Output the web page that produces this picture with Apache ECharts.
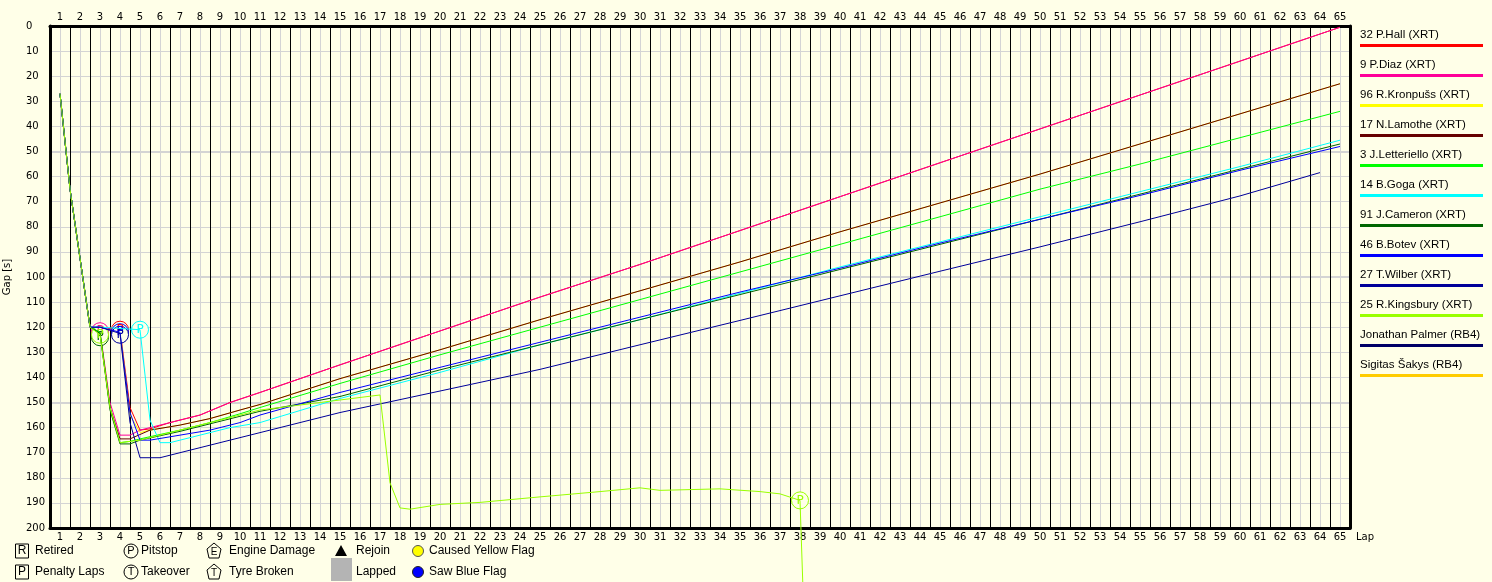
<!DOCTYPE html>
<html>
<head>
<meta charset="utf-8">
<title>Gap chart</title>
<script src="https://cdn.jsdelivr.net/npm/echarts@6/dist/echarts.min.js"></script>
<style>
  html, body { margin: 0; padding: 0; background: #ffffe8; }
  #chart { width: 1492px; height: 582px; }
</style>
</head>
<body>
<div id="chart"></div>
<script>
// drivers, in legend (and draw) order
const drivers = ['32 P.Hall (XRT)', '9 P.Diaz (XRT)', '96 R.Kronpušs (XRT)', '17 N.Lamothe (XRT)',
  '3 J.Letteriello (XRT)', '14 B.Goga (XRT)', '91 J.Cameron (XRT)', '46 B.Botev (XRT)',
  '27 T.Wilber (XRT)', '25 R.Kingsbury (XRT)', 'Jonathan Palmer (RB4)', 'Sigitas Šakys (RB4)'];
const colors = ['#ff0000', '#ff0099', '#ffff00', '#660000', '#00ff00', '#00ffff', '#006600',
  '#0000ff', '#000099', '#99ff00', '#000066', '#ffcc00'];

// [lap, gap s]
const hall = [[1,27],[1.5,65],[2.5,120],[3,120.5],[3.5,120.5],[4,121],[4.5,152],[5,161],[5.5,160.5],[6.5,158],[8,155],[9.5,150],[11,146],[15,135],[20,121.5],[25,108],[30,95],[35,81.5],[40,68],[45,54.5],[50,41],[55,27.5],[60,14],[65,0.5]];
const diaz = [[1,27],[1.5,65],[2.5,120],[3,121.5],[3.5,150],[4,163],[4.5,163],[5,161],[6.5,158],[8,155],[9.5,150],[11,146],[15,135],[20,121.5],[25,108],[30,95],[35,81.5],[40,68],[45,54.5],[50,41],[55,27.5],[60,14],[65,0.5]];
const kronpuss = [[1,27],[1.5,65],[2.5,120],[3,120.5],[4,121.5],[4.5,155],[5,162],[5.5,161],[7,159],[8.5,156.4],[10,153],[11,150.8],[15,140.5],[20,129],[25,117],[30,105.5],[35,94],[40,82],[45,70.5],[50,59],[55,47],[60,35],[65,23]];
const lamothe = [[1,27],[1.5,65],[2.5,120],[3,122],[3.5,152],[4,164.5],[4.5,164.5],[5.5,161],[7,159],[8.5,156.4],[10,153],[11,150.8],[15,140.5],[20,129],[25,117],[30,105.5],[35,94],[40,82],[45,70.5],[50,59],[55,47],[60,35],[65,23]];
const letteriello = [[1,27],[1.5,65],[2.5,120],[3,122],[3.5,152],[4,166],[4.5,165.5],[5,164.5],[7,161],[8.5,158],[10,154.5],[11,152],[15,142.4],[20,131],[25,120],[30,109],[35,98],[40,87],[45,76],[50,65],[55,55],[60,44.5],[65,34]];
const goga = [[1,27],[1.5,65],[2.5,120],[3,120],[4,120.5],[5,121],[5.5,157],[6,166],[6.5,166],[8,163],[9.5,160],[11,158],[15,148.4],[20,138],[25,127],[30,117],[35,106.5],[40,96],[45,86],[50,76],[55,66],[60,56],[65,45.5]];
const cameron = [[1,27],[1.5,65],[2.5,120],[3,122.5],[3.5,153],[4,166.5],[4.5,166.5],[5,165],[7,161.5],[8.5,158.5],[10,155.5],[11,153.5],[15,147.6],[20,137],[25,127],[30,117],[35,107],[40,97],[45,87],[50,77],[55,67],[60,57],[65,47]];
const botev = [[1,27],[1.5,65],[2.5,120],[3,120],[4,122],[4.5,154],[5,165],[5.5,165],[7,163],[8.5,161],[10,158],[11,155],[15,146],[20,136],[25,126],[30,116],[35,106],[40,96.5],[45,86.5],[50,77],[55,67.5],[60,57.5],[65,48]];
const wilber = [[1,27],[1.5,65],[2.5,120],[3,120],[4,122.5],[4.5,158],[5,172],[6,172],[7,170],[8.5,167],[10,164],[11,162],[15,154],[22,142],[25,136.8],[30,127],[35,117.3],[40,107.5],[45,97.7],[50,88],[55,78],[60,67.7],[64,58.4]];
const kingsbury = [[1,27],[1.5,65],[2.5,120],[3,123],[3.5,152],[4,166],[4.5,165.5],[5,165],[7,161],[8.5,158],[10,155],[11,153],[15,149],[17,147],[17.5,182],[18,192],[18.5,192.5],[20,190.6],[22,189.8],[25,187.6],[28,185.5],[30,184],[31,185],[34,184.4],[36,185.5],[37,186.4],[38,189],[38.3,260]];
const palmer = [];
const sakys = [];
const seriesData = [hall, diaz, kronpuss, lamothe, letteriello, goga, cameron, botev, wilber, kingsbury, palmer, sakys];

// pit stops: [series index, lap, gap]
const pits = [[1,3,121.6],[6,3,124],[9,3,123],[0,4,121],[7,4,122],[8,4,123],[5,5,121],[9,38,189]];

const legendRow1 = ['Retired', 'Pitstop', 'Engine Damage', 'Rejoin', 'Caused Yellow Flag'];
const legendRow2 = ['Penalty Laps', 'Takeover', 'Tyre Broken', 'Lapped', 'Saw Blue Flag'];

const BG = '#ffffe8';
const GRID = '#d4d4d4';
const tickFont = { fontFamily: 'DejaVu Sans', fontSize: 10, color: '#000' };
const txtFont = '12px "Liberation Sans"';

const chart = echarts.init(document.getElementById('chart'));

const series = drivers.map((name, i) => {
  const marks = pits.filter(p => p[0] === i).map(p => ({ coord: [p[1], p[2]] }));
  return {
    name: name,
    type: 'line',
    data: seriesData[i],
    symbol: 'none',
    clip: false,
    color: colors[i],
    lineStyle: { width: 1, color: colors[i] },
    emphasis: { disabled: true },
    z: 2 + i,
    markPoint: marks.length ? {
      symbol: 'circle',
      symbolSize: 17,
      itemStyle: { color: BG, borderColor: colors[i], borderWidth: 1 },
      label: { show: true, position: 'inside', formatter: 'P', color: colors[i], fontFamily: 'DejaVu Sans', fontSize: 12 },
      data: marks
    } : undefined
  };
});

const graphic = [];
// right-hand legend
drivers.forEach((name, i) => {
  graphic.push({ type: 'text', left: 1360, top: 29 + 30 * i,
    style: { text: name, font: '11.5px "Liberation Sans"', fill: '#000' } });
  graphic.push({ type: 'rect', shape: { x: 1360, y: 44 + 30 * i, width: 123, height: 3 },
    style: { fill: colors[i] } });
});

// symbol legend below the plot
const iconX = [22, 131, 214, 341, 418];
const textX = [35, 141, 229, 356, 429];
const rowY = [551, 572];
function boxIcon(cx, cy, letter) {
  graphic.push({ type: 'rect', shape: { x: cx - 6.5, y: cy - 7, width: 13, height: 14 },
    style: { fill: BG, stroke: '#000', lineWidth: 1 } });
  graphic.push({ type: 'text', x: cx, y: cy, style: { text: letter, font: txtFont, fill: '#000', align: 'center', verticalAlign: 'middle' } });
}
function circleIcon(cx, cy, letter) {
  graphic.push({ type: 'circle', shape: { cx: cx, cy: cy, r: 7 }, style: { fill: BG, stroke: '#000', lineWidth: 1 } });
  graphic.push({ type: 'text', x: cx, y: cy, style: { text: letter, font: '11px "Liberation Sans"', fill: '#000', align: 'center', verticalAlign: 'middle' } });
}
function pentIcon(cx, cy, letter) {
  graphic.push({ type: 'polygon', shape: { points: [[cx, cy - 8], [cx + 7, cy - 2], [cx + 5, cy + 7], [cx - 5, cy + 7], [cx - 7, cy - 2]] },
    style: { fill: BG, stroke: '#000', lineWidth: 1 } });
  graphic.push({ type: 'text', x: cx, y: cy + 1, style: { text: letter, font: '10px "Liberation Sans"', fill: '#000', align: 'center', verticalAlign: 'middle' } });
}
boxIcon(iconX[0], rowY[0], 'R');
boxIcon(iconX[0], rowY[1], 'P');
circleIcon(iconX[1], rowY[0], 'P');
circleIcon(iconX[1], rowY[1], 'T');
pentIcon(iconX[2], rowY[0], 'E');
pentIcon(iconX[2], rowY[1], 'T');
graphic.push({ type: 'polygon', shape: { points: [[iconX[3], rowY[0] - 6], [iconX[3] + 6, rowY[0] + 5], [iconX[3] - 6, rowY[0] + 5]] }, style: { fill: '#000' } });
graphic.push({ type: 'rect', shape: { x: 331, y: 558, width: 21, height: 23 }, style: { fill: '#b4b4b4' } });
graphic.push({ type: 'circle', shape: { cx: iconX[4], cy: rowY[0], r: 5.5 }, style: { fill: '#ffff00', stroke: '#555', lineWidth: 1 } });
graphic.push({ type: 'circle', shape: { cx: iconX[4], cy: rowY[1], r: 5.5 }, style: { fill: '#0000ff', stroke: '#222', lineWidth: 1 } });
[legendRow1, legendRow2].forEach((row, r) => {
  row.forEach((t, k) => {
    graphic.push({ type: 'text', x: textX[k], y: rowY[r], style: { text: t, font: txtFont, fill: '#000', verticalAlign: 'middle' } });
  });
});

const xBase = {
  type: 'value', min: 0.5, max: 65.5, interval: 0.5,
  axisLine: { show: true, onZero: false, lineStyle: { color: '#000', width: 3 } },
  axisTick: { show: false },
  axisLabel: Object.assign({ formatter: v => Number.isInteger(v) ? String(v) : '', margin: 4 }, tickFont)
};

chart.setOption({
  backgroundColor: BG,
  animation: false,
  grid: { left: 50, right: 142, top: 26, bottom: 54, outerBoundsMode: 'none', containLabel: false },
  xAxis: [
    Object.assign({}, xBase, { position: 'top',
      splitLine: { show: true, lineStyle: { color: ['#000', GRID], width: 1 } } }),
    Object.assign({}, xBase, { position: 'bottom', splitLine: { show: false },
      name: 'Lap', nameLocation: 'end', nameGap: 6,
      nameTextStyle: Object.assign({ verticalAlign: 'top', align: 'left', padding: [4, 0, 0, 0] }, tickFont) })
  ],
  yAxis: [
    { type: 'value', inverse: true, min: 0, max: 200, interval: 10, position: 'left',
      axisLine: { show: true, onZero: false, lineStyle: { color: '#000', width: 3 } },
      axisTick: { show: false },
      axisLabel: Object.assign({ align: 'left', margin: 24 }, tickFont),
      splitLine: { show: true, lineStyle: { color: GRID, width: 1 } },
      name: 'Gap [s]', nameLocation: 'middle', nameGap: 38, nameRotate: 90, nameTextStyle: tickFont },
    { type: 'value', inverse: true, min: 0, max: 200, interval: 50, position: 'right',
      axisLine: { show: true, onZero: false, lineStyle: { color: '#000', width: 3 } },
      axisTick: { show: false }, axisLabel: { show: false },
      splitLine: { show: true, lineStyle: { color: GRID, width: 2 } } }
  ],
  series: series,
  graphic: graphic
});
</script>
</body>
</html>
